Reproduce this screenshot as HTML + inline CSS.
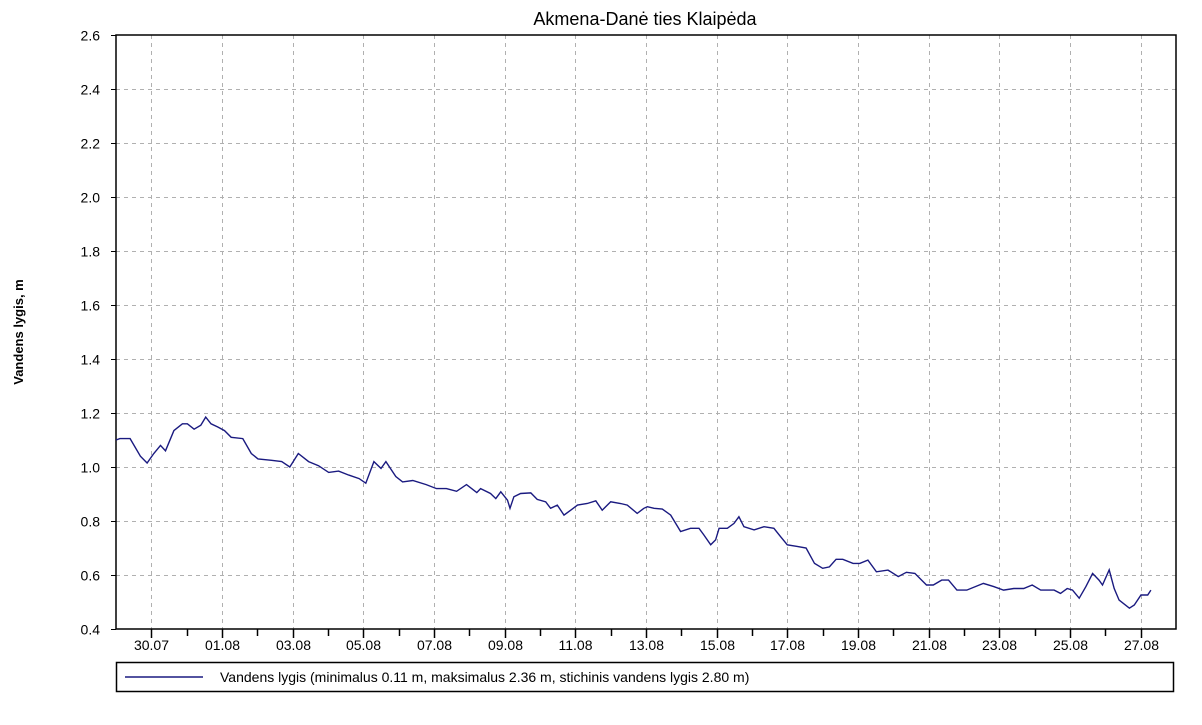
<!DOCTYPE html>
<html><head><meta charset="utf-8"><style>
body{margin:0;background:#fff;width:1202px;height:720px;overflow:hidden;font-family:"Liberation Sans",sans-serif}
</style></head><body>
<svg id="chart" width="1202" height="720" xmlns="http://www.w3.org/2000/svg">
<text x="645" y="25" text-anchor="middle" font-size="18" fill="#000">Akmena-Danė ties Klaipėda</text>
<text transform="translate(23,332) rotate(-90)" text-anchor="middle" font-size="13" font-weight="bold">Vandens lygis, m</text>
<g id="grid"></g><g id="axes"></g><g id="series"></g>
<g>
<rect x="116.5" y="662.5" width="1057" height="29" fill="#fff" stroke="#000" stroke-width="1.5"/>
<line x1="125" y1="677" x2="203" y2="677" stroke="#1a1a80" stroke-width="1.5"/>
<text x="220" y="682" font-size="14">Vandens lygis (minimalus 0.11 m, maksimalus 2.36 m, stichinis vandens lygis 2.80 m)</text>
</g>
</svg>
<script>
const yTicks=[0.4,0.6,0.8,1.0,1.2,1.4,1.6,1.8,2.0,2.2,2.4,2.6];
const xTickLabels=["30.07","01.08","03.08","05.08","07.08","09.08","11.08","13.08","15.08","17.08","19.08","21.08","23.08","25.08","27.08"];
const days=[-1.0,-0.89,-0.6,-0.31,-0.12,0.07,0.26,0.4,0.64,0.88,1.02,1.21,1.4,1.54,1.69,1.88,2.07,2.26,2.59,2.83,3.02,3.4,3.69,3.92,4.16,4.45,4.73,5.02,5.3,5.59,5.88,6.07,6.3,6.5,6.64,6.92,7.11,7.4,7.78,8.07,8.35,8.64,8.92,9.21,
9.32,9.6,9.75,9.89,10.08,10.15,10.26,10.45,10.74,10.92,11.16,11.3,11.49,11.68,11.87,12.06,12.34,12.58,12.76,13.0,13.28,13.47,13.75,13.94,14.04,14.23,14.46,14.7,14.98,15.26,15.5,15.64,15.83,15.97,16.07,16.3,16.49,16.63,16.77,17.06,17.34,17.62,17.81,18.0,18.28,
18.53,18.77,19.0,19.19,19.38,19.57,19.86,20.05,20.28,20.52,20.85,21.14,21.37,21.61,21.94,22.13,22.37,22.56,22.8,23.08,23.55,23.84,24.12,24.41,24.69,24.93,25.17,25.55,25.73,25.92,26.07,26.26,26.45,26.64,26.82,26.92,27.11,27.25,27.39,27.68,27.82,28.01,28.2,28.29];
const levels=[1.10,1.105,1.105,1.04,1.015,1.05,1.08,1.06,1.135,1.16,1.16,1.14,1.155,1.185,1.16,1.148,1.135,1.11,1.105,1.05,1.03,1.025,1.02,1.0,1.05,1.02,1.005,0.98,0.985,0.97,0.957,0.94,1.02,0.995,1.02,0.965,0.945,0.95,0.935,0.92,0.92,0.91,0.935,0.905,
0.92,0.902,0.883,0.908,0.877,0.847,0.89,0.902,0.904,0.88,0.871,0.847,0.859,0.822,0.84,0.859,0.865,0.875,0.84,0.871,0.865,0.859,0.828,0.847,0.853,0.847,0.844,0.822,0.761,0.773,0.773,0.748,0.712,0.73,0.773,0.773,0.791,0.816,0.779,0.767,0.779,0.773,0.742,0.712,0.706,
0.70,0.643,0.625,0.63,0.658,0.658,0.643,0.643,0.655,0.612,0.618,0.594,0.61,0.606,0.563,0.563,0.581,0.581,0.544,0.544,0.569,0.557,0.544,0.55,0.55,0.563,0.544,0.544,0.532,0.55,0.544,0.514,0.557,0.606,0.581,0.563,0.619,0.55,0.507,0.477,0.489,0.526,0.526,0.544];
const L=116,R=1176,T=35,B=629,dMin=-1,dMax=29,vMin=0.4,vMax=2.6;
const xs=d=>L+(d-dMin)/(dMax-dMin)*(R-L);
const ys=v=>B-(v-vMin)/(vMax-vMin)*(B-T);
const NS="http://www.w3.org/2000/svg";
function mk(tag,attrs,parent,txt){const e=document.createElementNS(NS,tag);for(const k in attrs)e.setAttribute(k,attrs[k]);if(txt!==undefined)e.textContent=txt;parent.appendChild(e);return e;}
const grid=document.getElementById('grid'),axes=document.getElementById('axes'),series=document.getElementById('series');
mk('rect',{x:L,y:T,width:R-L,height:B-T,fill:'#fff'},grid);
yTicks.forEach(v=>{const y=Math.round(ys(v))+0.5;
 if(v>vMin&&v<vMax){const g=mk('line',{x1:L,x2:R,y1:y,y2:y,stroke:'#b0b0b0','stroke-dasharray':'4,4'},grid);
 
 }
 const t=mk('text',{x:100,y:y+5,'text-anchor':'end','font-size':'14'},axes,v.toFixed(1));
 
 
 mk('line',{x1:L-5,x2:L,y1:y,y2:y,stroke:'#000'},axes);
});
for(let d=0;d<=28;d++){const x=Math.round(xs(d))+0.5;
 mk('line',{x1:x,x2:x,y1:B,y2:B+(d%2===0?9:7),stroke:'#000','stroke-width':1.5},axes);
 if(d%2===0){const g=mk('line',{x1:x,x2:x,y1:T,y2:B,stroke:'#b0b0b0','stroke-dasharray':'4,4'},grid);
 
 
 const t=mk('text',{x:x,y:B+21,'text-anchor':'middle','font-size':'14'},axes,xTickLabels[d/2]);
 
 }
}
mk('rect',{x:L,y:T,width:R-L,height:B-T,fill:'none',stroke:'#000','stroke-width':1.5},axes);
const p=mk('polyline',{points:days.map((d,i)=>xs(d).toFixed(1)+','+ys(levels[i]).toFixed(1)).join(' '),fill:'none',stroke:'#1a1a80','stroke-width':1.4},series);


</script>
</body></html>
